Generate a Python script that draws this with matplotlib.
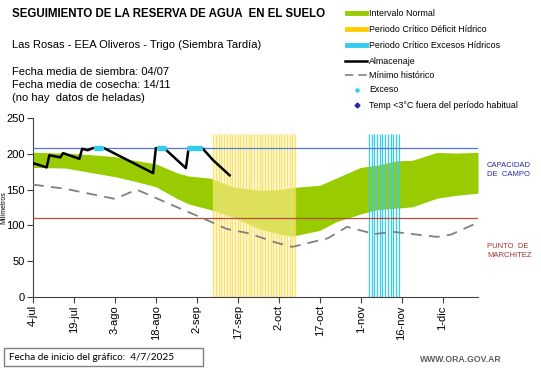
import matplotlib
matplotlib.use("Agg")
import matplotlib.pyplot as plt
from matplotlib.lines import Line2D
from matplotlib.patches import Rectangle

# days counted from 4-jul
band_days = [0, 12, 24, 30, 37, 45, 53, 57, 65, 73, 83, 90, 95, 105, 111, 120, 126, 133, 139, 148, 155, 163]
band_upper = [202, 201, 198, 196, 191, 186, 173, 169, 166, 154, 149, 150, 153, 156, 166, 181, 184, 190, 191, 202, 201, 202]
band_lower = [181, 180, 172, 168, 162, 154, 137, 130, 122, 112, 95, 88, 85, 93, 105, 116, 122, 124, 126, 138, 142, 145]

min_days = [0, 12, 30, 38, 53, 61, 71, 79, 89, 95, 108, 115, 125, 132, 141, 148, 153, 163]
min_vals = [157, 151, 137, 150, 125, 112, 95, 89, 76, 70, 82, 98, 88, 91, 87, 84, 87, 104]

alm_days = [0, 5, 6, 10, 11, 17, 18, 20, 22, 26, 44, 45, 48, 56, 57, 62, 66, 70, 72]
alm_vals = [187, 181, 198, 195, 201, 193, 207, 205, 208, 208, 173, 208, 208, 180, 208, 208, 191, 177, 170]

exceso_days = [23, 24, 25, 46, 47, 48, 57, 58, 59, 60, 61]

deficit_days = list(range(66, 97))
excesos_days = list(range(123, 135))

capacidad_campo = 208
punto_marchitez = 111

tick_days = [0, 15, 30, 45, 60, 75, 90, 105, 120, 135, 150]
tick_labels = ['4-jul', '19-jul', '3-ago', '18-ago', '2-sep', '17-sep',
               '2-oct', '17-oct', '1-nov', '16-nov', '1-dic']

W, H = 541, 368
plt.rcParams['font.family'] = ['Liberation Sans', 'DejaVu Sans']

fig = plt.figure(figsize=(W / 100, H / 100), dpi=100)
ax = fig.add_axes([33 / W, 71 / H, 445 / W, 179 / H])

green = '#99CC00'
yellow = '#F7DC50'
cyan = '#33CCEE'

ax.fill_between(band_days, band_lower, band_upper, color=green, lw=0, zorder=1)
# periodo critico deficit: pale background + daily lines
ax.fill_between([deficit_days[0], deficit_days[-1]], 0, 228, color='#FFF6B8', alpha=0.55, lw=0, zorder=2)
ax.vlines(deficit_days, 0, 228, color=yellow, lw=0.9, alpha=0.8, zorder=2)
ax.vlines(excesos_days, 0, 228, color=cyan, lw=0.9, zorder=2)
ax.axhline(capacidad_campo, color='#5577DD', lw=0.9, zorder=3)
ax.axhline(punto_marchitez, color='#B0503C', lw=0.9, zorder=3)
ax.plot(min_days, min_vals, color='#808080', lw=1.3, ls=(0, (6, 4)), zorder=4)
ax.plot(alm_days, alm_vals, color='black', lw=1.8, zorder=5)
ax.scatter(exceso_days, [capacidad_campo] * len(exceso_days), s=16, color=cyan,
           marker='o', lw=0, zorder=6)

ax.set_xlim(0, 163)
ax.set_ylim(0, 250)
ax.set_yticks([0, 50, 100, 150, 200, 250])
ax.set_xticks(tick_days)
ax.set_xticklabels(tick_labels, rotation=90)
ax.tick_params(direction='out', length=4, width=0.8, color='#404040', labelsize=8, pad=2)
for s in ['top', 'right']:
    ax.spines[s].set_visible(False)
for s in ['left', 'bottom']:
    ax.spines[s].set_color('#404040')
    ax.spines[s].set_linewidth(0.8)
ax.set_ylabel('Milímetros', fontsize=5)
ax.yaxis.set_label_coords(-0.057, 0.5)


def ftext(x, y, s, **kw):
    fig.text(x / W, 1 - y / H, s, va='center', **kw)


ftext(12, 14, 'SEGUIMIENTO DE LA RESERVA DE AGUA  EN EL SUELO', fontsize=8.3, fontweight='bold')
ftext(12, 45, 'Las Rosas - EEA Oliveros - Trigo (Siembra Tardía)', fontsize=8)
ftext(12, 72, 'Fecha media de siembra: 04/07', fontsize=8)
ftext(12, 85, 'Fecha media de cosecha: 14/11', fontsize=8)
ftext(12, 98, '(no hay  datos de heladas)', fontsize=8)

# legend
leg_labels = ['Intervalo Normal', 'Periodo Crítico Déficit Hídrico', 'Periodo Crítico Excesos Hídricos',
              'Almacenaje', 'Mínimo histórico', 'Exceso', 'Temp <3°C fuera del período habitual']
leg_y = [13, 29, 45, 61, 75, 90, 105]
for lab, y in zip(leg_labels, leg_y):
    yy = 1 - y / H
    if lab == 'Intervalo Normal':
        fig.add_artist(Line2D([347 / W, 366 / W], [yy, yy], color=green, lw=3.5))
    elif 'Déficit' in lab:
        fig.add_artist(Line2D([347 / W, 366 / W], [yy, yy], color='#FFCC00', lw=3.5))
    elif 'Excesos' in lab:
        fig.add_artist(Line2D([347 / W, 366 / W], [yy, yy], color=cyan, lw=3.5))
    elif lab == 'Almacenaje':
        fig.add_artist(Line2D([345 / W, 367 / W], [yy, yy], color='black', lw=1.8))
    elif 'Mínimo' in lab:
        fig.add_artist(Line2D([345 / W, 367 / W], [yy, yy], color='#808080', lw=1.2, ls=(0, (5, 3))))
    elif lab == 'Exceso':
        fig.add_artist(Line2D([357 / W], [yy], color=cyan, marker='o', ms=2.2, lw=0))
    else:
        fig.add_artist(Line2D([357 / W], [yy], color='#1F2FA0', marker='D', ms=2.5, lw=0))
    ftext(369, y, lab, fontsize=6.4)

ftext(487, 170, 'CAPACIDAD\nDE  CAMPO', fontsize=5.5, color='#2A2AA0', linespacing=1.3)
ftext(487, 251, 'PUNTO  DE\nMARCHITEZ', fontsize=5.5, color='#A03030', linespacing=1.3)

fig.add_artist(Rectangle((4 / W, 1 - 366 / H), 199 / W, 18 / H, transform=fig.transFigure,
                         fill=False, edgecolor='#808080', lw=1))
ftext(9, 357, 'Fecha de inicio del gráfico:  4/7/2025', fontsize=7.2, family=['Lato', 'DejaVu Sans'])
ftext(420, 359, 'WWW.ORA.GOV.AR', fontsize=6.2, color='#606060', fontweight='bold')

fig.savefig('out.png', dpi=100)
